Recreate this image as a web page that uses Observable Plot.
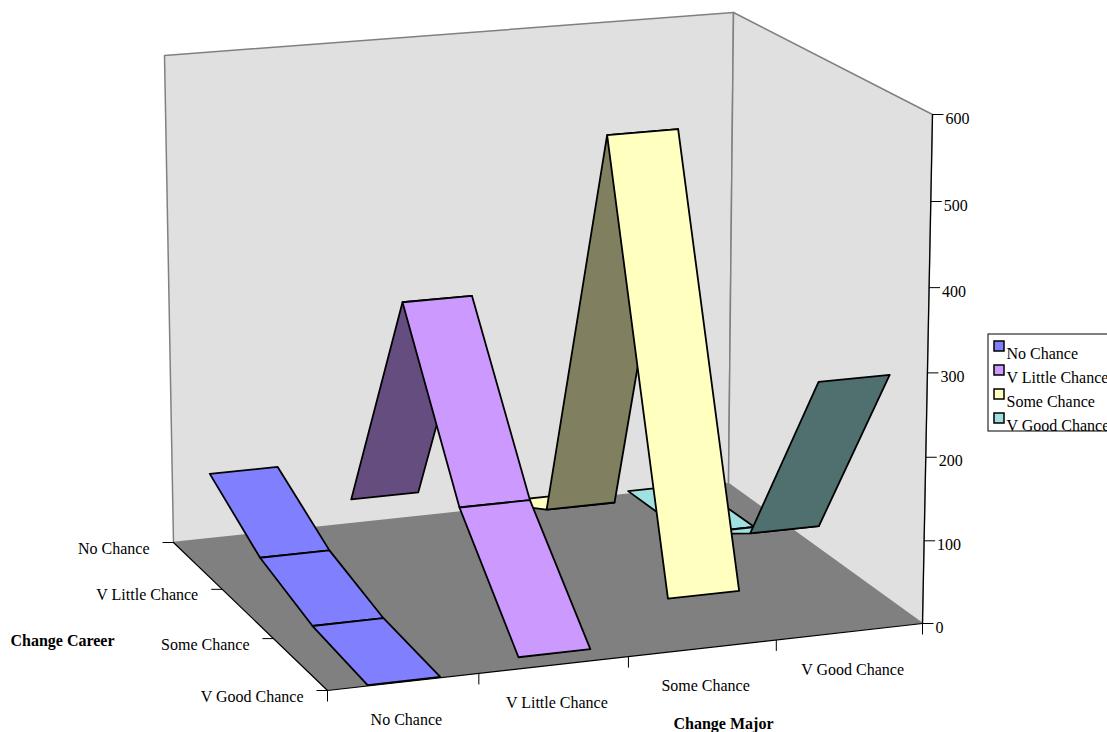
<!DOCTYPE html>
<html>
<head>
<meta charset="utf-8">
<script src="https://cdn.jsdelivr.net/npm/d3@7/dist/d3.min.js"></script>
<script src="https://cdn.jsdelivr.net/npm/@observablehq/plot@0.6/dist/plot.umd.min.js"></script>
<style>
  html, body { margin: 0; padding: 0; background: #fff; overflow: hidden; }
  svg { display: block; }
</style>
</head>
<body>
<div id="chart"></div>
<script>
// Ribbon chart: likelihood of changing major against likelihood of changing career.
const majorCategories = ["No Chance", "V Little Chance", "Some Chance", "V Good Chance"];
const careerCategories = ["No Chance", "V Little Chance", "Some Chance", "V Good Chance"];
const valueTicks = [0, 100, 200, 300, 400, 500, 600];

const noChanceCounts = [82, 34, 10, 1];
const vLittleChanceCounts = [31, 329, 134, 14];
const someChanceCounts = [8, 56, 558, 64];
const vGoodChanceCounts = [4, 6, 65, 302];

const seriesCounts = [noChanceCounts, vLittleChanceCounts, someChanceCounts, vGoodChanceCounts];
const seriesColors = ["#8080ff", "#cc99ff", "#ffffc0", "#a0e0e0"];

// Camera: where the floor corners land, and the vertical reach of the value axis at each.
const floorCorners = {backLeft: [173, 542], backRight: [728, 483], frontRight: [922, 623], frontLeft: [327, 690]};
const riseAtCorner = {backLeft: [-9, -487], backRight: [5, -471], frontRight: [10, -509], frontLeft: [-6, -524]};
const valueMax = 600;
const valueCurve = 0.03;
const ribbonHalfWidth = 0.06;
const ribbonOffset = 0.001;

// Square-to-quadrilateral homography for the floor plane.
const floorMap = (() => {
  const {backLeft: [x0, y0], backRight: [x1, y1], frontRight: [x2, y2], frontLeft: [x3, y3]} = floorCorners;
  const dx1 = x1 - x2, dx2 = x3 - x2, sx = x0 - x1 + x2 - x3;
  const dy1 = y1 - y2, dy2 = y3 - y2, sy = y0 - y1 + y2 - y3;
  const den = dx1 * dy2 - dx2 * dy1;
  const g = (sx * dy2 - dx2 * sy) / den;
  const h = (dx1 * sy - sx * dy1) / den;
  const a = x1 - x0 + g * x1, b = x3 - x0 + h * x3;
  const d = y1 - y0 + g * y1, e = y3 - y0 + h * y3;
  return (u, w) => {
    const q = 1 + g * u + h * w;
    return [(a * u + b * w + x0) / q, (d * u + e * w + y0) / q];
  };
})();

// u runs along Change Major, w along Change Career, value up the vertical axis.
function project(u, w, value) {
  const [fx, fy] = floorMap(u, w);
  const t = value / valueMax;
  const z = t * (1 - valueCurve) / (1 - valueCurve * t);
  const mix = i =>
    (1 - u) * (1 - w) * riseAtCorner.backLeft[i] + u * (1 - w) * riseAtCorner.backRight[i] +
    u * w * riseAtCorner.frontRight[i] + (1 - u) * w * riseAtCorner.frontLeft[i];
  return {x: fx + z * mix(0), y: fy + z * mix(1)};
}

const signedArea = pts => d3.sum(pts, (p, i) => {
  const q = pts[(i + 1) % pts.length];
  return p.x * q.y - q.x * p.y;
});

// Ribbon facets, back to front; a facet seen from below takes the darker shade.
const facets = [];
for (let k = 0; k < careerCategories.length - 1; ++k) {
  seriesCounts.forEach((counts, s) => {
    const uc = (s + 0.5) / majorCategories.length + ribbonOffset;
    const w0 = k / (careerCategories.length - 1);
    const w1 = (k + 1) / (careerCategories.length - 1);
    const corners = [
      project(uc - ribbonHalfWidth, w0, counts[k]),
      project(uc + ribbonHalfWidth, w0, counts[k]),
      project(uc + ribbonHalfWidth, w1, counts[k + 1]),
      project(uc - ribbonHalfWidth, w1, counts[k + 1])
    ];
    const base = d3.rgb(seriesColors[s]);
    const color = signedArea(corners) > 0
      ? seriesColors[s]
      : d3.rgb(base.r / 2, base.g / 2, base.b / 2).formatHex();
    [...corners, corners[0]].forEach(p => facets.push({...p, id: `${s}-${k}`, color}));
  });
}

const wallTop = (u, w) => project(u, w, valueMax);
const floorPoint = (u, w) => project(u, w, 0);
const outline = pts => [...pts, pts[0]];

const backWall = outline([floorPoint(0, 0), wallTop(0, 0), wallTop(1, 0), floorPoint(1, 0)]);
const sideWall = outline([floorPoint(1, 0), wallTop(1, 0), wallTop(1, 1), floorPoint(1, 1)]);
const floorPlane = [floorPoint(0, 0), floorPoint(1, 0), floorPoint(1, 1), floorPoint(0, 1)];
const floorRim = [floorPoint(0, 0), floorPoint(0, 1), floorPoint(1, 1)];

const valueAxisData = valueTicks.map(v => ({v, ...project(1, 1, v)}));
const valueAxisLine = [wallTop(1, 1), floorPoint(1, 1)];
const majorTicks = d3.range(0, 5).map(i => floorPoint(i / 4, 1));
const careerAxisData = careerCategories.map((label, i) => ({label, ...floorPoint(0, i / 3)}));
const majorAxisData = majorCategories.map((label, i) => ({label, ...floorPoint((i + 0.5) / 4, 1)}));

// Legend box runs off the right of the frame.
const legendLeft = 988, legendTop = 334, legendBottom = 431, legendRight = 1130, legendStep = 24;
const legendRows = majorCategories.map((label, i) => ({
  label, color: seriesColors[i], y: legendTop + 7 + i * legendStep
}));

const serif = "'Liberation Serif', 'Times New Roman', serif";
const xy = {x: "x", y: "y"};
const labelSize = 16;

const figure = Plot.plot({
  width: 1107,
  height: 732,
  margin: 0,
  style: {background: "#fff", fontFamily: serif, overflow: "hidden"},
  x: {domain: [0, 1107], range: [0, 1107], axis: null},
  y: {domain: [0, 732], range: [0, 732], axis: null},
  marks: [
    // Walls and floor
    Plot.line(backWall, {...xy, fill: "#e0e0e0", stroke: "#808080", strokeWidth: 1.5}),
    Plot.line(sideWall, {...xy, fill: "#e0e0e0", stroke: "#808080", strokeWidth: 1.5}),
    Plot.line(floorPlane, {...xy, fill: "#808080", stroke: "none"}),
    Plot.line(floorRim, {...xy, stroke: "#000", strokeWidth: 1.2}),

    // Ribbons
    Plot.line(facets, {...xy, z: "id", fill: "color", stroke: "#000", strokeWidth: 1.8}),

    // Value axis
    Plot.line(valueAxisLine, {...xy, stroke: "#000", strokeWidth: 1.2}),
    Plot.link(valueAxisData, {
      x1: "x", y1: "y", x2: d => d.x + 11, y2: "y", stroke: "#000", strokeWidth: 1
    }),
    Plot.text(valueAxisData, {
      x: "x", y: "y", text: d => String(d.v), dx: 13, dy: 4,
      textAnchor: "start", fontSize: labelSize, fill: "#000"
    }),

    // Major axis
    Plot.link(majorTicks, {x1: "x", y1: "y", x2: "x", y2: d => d.y + 11, stroke: "#000", strokeWidth: 1}),
    Plot.text(majorAxisData, {
      x: "x", y: "y", text: "label", dx: 3, dy: 38, textAnchor: "middle", fontSize: labelSize, fill: "#000"
    }),
    Plot.text(["Change Major"], {
      x: () => 723, y: () => 723, text: d => d, fontSize: labelSize, fontWeight: "bold", fill: "#000"
    }),

    // Career axis
    Plot.link(careerAxisData, {x1: "x", y1: "y", x2: d => d.x - 11, y2: "y", stroke: "#000", strokeWidth: 1}),
    Plot.text(careerAxisData, {
      x: "x", y: "y", text: "label", dx: -24, dy: 6, textAnchor: "end", fontSize: labelSize, fill: "#000"
    }),
    Plot.text(["Change Career"], {
      x: () => 62, y: () => 640, text: d => d, fontSize: labelSize, fontWeight: "bold", fill: "#000"
    }),

    // Legend
    Plot.rect([0], {
      x1: () => legendLeft, x2: () => legendRight, y1: () => legendTop, y2: () => legendBottom,
      fill: "#fff", stroke: "#000", strokeWidth: 1
    }),
    Plot.rect(legendRows, {
      x1: () => legendLeft + 6, x2: () => legendLeft + 16, y1: "y", y2: d => d.y + 10,
      fill: "color", stroke: "#000", strokeWidth: 1.5
    }),
    Plot.text(legendRows, {
      x: () => legendLeft + 18, y: d => d.y + 12, text: "label",
      textAnchor: "start", fontSize: labelSize, fill: "#000"
    })
  ]
});

document.getElementById("chart").append(figure);
</script>
</body>
</html>
